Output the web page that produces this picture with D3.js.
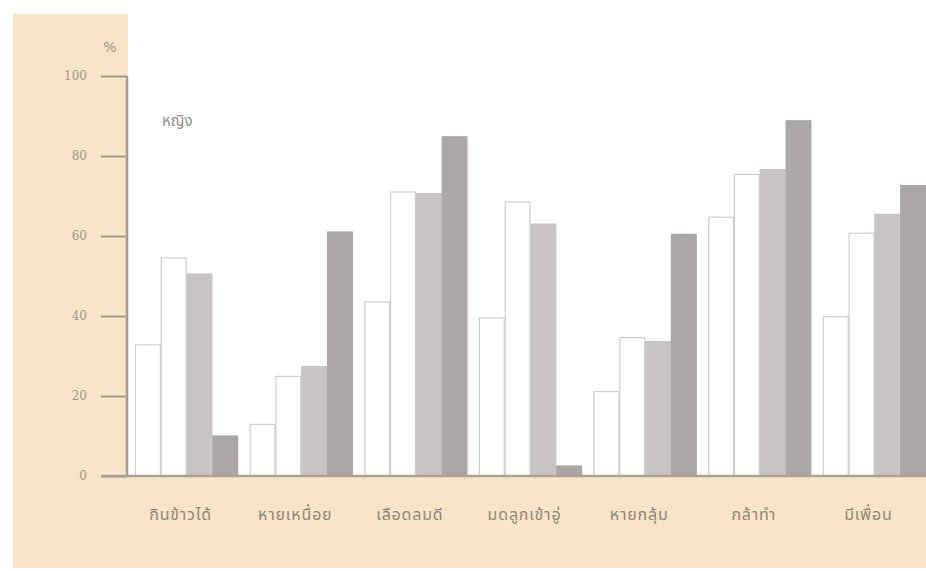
<!DOCTYPE html>
<html>
<head>
<meta charset="utf-8">
<script src="https://cdn.jsdelivr.net/npm/d3@7/dist/d3.min.js"></script>
<style>
html,body{margin:0;padding:0;background:#fff;}
svg{display:block;}
</style>
</head>
<body>
<svg id="chart" width="926" height="571"></svg>
<script>
const categories = ["กินข้าวได้","หายเหนื่อย","เลือดลมดี","มดลูกเข้าอู่","หายกลุ้ม","กล้าทำ","มีเพื่อน"];
const seriesNames = ["s1","s2","s3","s4"];
const series1 = [32.8, 12.9, 43.5, 39.5, 21.1, 64.7, 39.8];
const series2 = [54.5, 24.9, 71.0, 68.5, 34.6, 75.4, 60.7];
const series3 = [50.5, 27.4, 70.6, 63.0, 33.6, 76.6, 65.4];
const series4 = [10.0, 61.0, 84.8, 2.5, 60.4, 88.8, 72.6];
const yTicks = [0, 20, 40, 60, 80, 100];
const unitLabel = "%";
const groupLabel = "หญิง";

const allSeries = [series1, series2, series3, series4];
const fills = ["#ffffff", "#ffffff", "#c8c4c4", "#aba7a6"];
const strokes = ["#d2cdcd", "#d2cdcd", "#c8c4c4", "#aba7a6"];

const svg = d3.select("#chart");
const W = 926, H = 571;

const beige = "#f8e4c7";
svg.append("rect").attr("x", 0).attr("y", 0).attr("width", W).attr("height", H).attr("fill", "#ffffff");
svg.append("rect").attr("x", 13).attr("y", 14).attr("width", 115).attr("height", 554).attr("fill", beige);
svg.append("rect").attr("x", 13).attr("y", 476).attr("width", W - 13).attr("height", 92).attr("fill", beige);

const y = d3.scaleLinear().domain([0, 100]).range([476, 76]);
const x0 = d3.scaleBand().domain(categories).range([135, 926]).paddingInner(0.1).paddingOuter(0);
const x1 = d3.scaleBand().domain(seriesNames).range([0, x0.bandwidth()]).padding(0);

const g = svg.append("g");
categories.forEach((c, i) => {
  seriesNames.forEach((s, j) => {
    const v = allSeries[j][i];
    g.append("rect")
      .attr("x", x0(c) + x1(s) + 0.5)
      .attr("y", y(v))
      .attr("width", x1.bandwidth() - 1)
      .attr("height", y(0) - y(v))
      .attr("fill", fills[j])
      .attr("stroke", strokes[j])
      .attr("stroke-width", 1.2);
  });
});

const axisColor = "#a39c92";
const yAxis = d3.axisLeft(y).tickValues(yTicks).tickSize(26).tickPadding(14).tickFormat(d3.format("d"));
const ax = svg.append("g").attr("transform", "translate(127,0)").call(yAxis);
ax.select(".domain").attr("stroke", axisColor).attr("stroke-width", 2.5).attr("d", `M0,${y(100)}V${y(0)}`);
ax.selectAll(".tick line").attr("stroke", axisColor).attr("stroke-width", 2);
ax.selectAll(".tick text").attr("fill", "#a0968a").attr("font-size", 12)
  .attr("font-family", "DejaVu Serif, serif");

svg.append("line").attr("x1", 101).attr("x2", W).attr("y1", y(0)).attr("y2", y(0))
  .attr("stroke", "#a8a29a").attr("stroke-width", 2.5);

svg.append("text").attr("x", 110).attr("y", 52).attr("text-anchor", "middle")
  .attr("font-size", 14).attr("fill", "#9c9284").attr("font-family", "DejaVu Sans, sans-serif").text(unitLabel);

svg.append("text").attr("x", 162).attr("y", 126).attr("font-size", 15).attr("fill", "#938c83")
  .attr("font-family", "Noto Sans Thai, Loma, Garuda, DejaVu Sans, sans-serif").text(groupLabel);

svg.append("g").selectAll("text").data(categories).join("text")
  .attr("x", d => x0(d) + x0.bandwidth() / 2 - 6)
  .attr("y", 520)
  .attr("text-anchor", "middle")
  .attr("font-size", 16)
  .attr("letter-spacing", 0.8)
  .attr("fill", "#8f8679")
  .attr("font-family", "Noto Sans Thai, Loma, Garuda, DejaVu Sans, sans-serif")
  .text(d => d);
</script>
</body>
</html>
